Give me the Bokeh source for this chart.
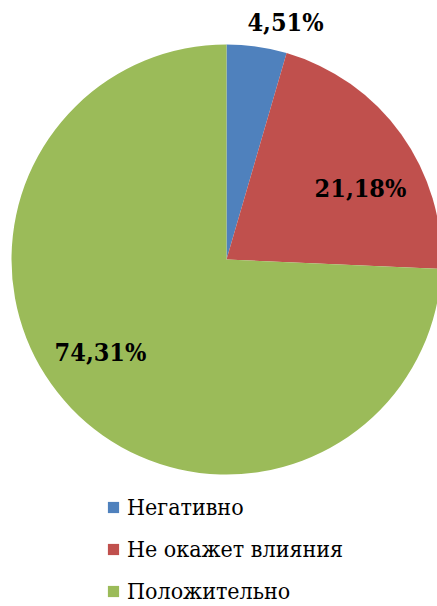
import math
from bokeh.plotting import figure
from bokeh.models import ColumnDataSource, Range1d, Legend, LegendItem
from bokeh.core.properties import value
from bokeh.embed import file_html
from bokeh.resources import INLINE

# ---- data ----
categories = ["Негативно", "Не окажет влияния", "Положительно"]
shares = [4.51, 21.18, 74.31]
colors = ["#4F81BD", "#C0504D", "#9BBB59"]

# ---- layout (pixel coordinates, y measured upwards from page bottom) ----
W, H = 437, 606
cx, cy, r = 226, 347, 215
label_pos = [(285, 584), (360, 418), (100, 254)]
FONT = "DejaVu Serif Condensed"

starts, ends = [], []
a = math.pi / 2
for s in shares:
    starts.append(a - s / 100 * 2 * math.pi)
    ends.append(a)
    a -= s / 100 * 2 * math.pi

src = ColumnDataSource(dict(cat=categories, start=starts, end=ends, color=colors,
                            x=[cx] * 3, y=[cy] * 3))

p = figure(width=W, height=H, output_backend="svg", toolbar_location=None,
           x_range=Range1d(0, W), y_range=Range1d(0, H), min_border=0)
p.axis.visible = False
p.grid.visible = False
p.outline_line_color = None
p.background_fill_color = "white"

w = p.wedge(x="x", y="y", radius=r, start_angle="start", end_angle="end",
            fill_color="color", line_color=None, source=src)

lab = ColumnDataSource(dict(
    x=[q[0] for q in label_pos], y=[q[1] for q in label_pos],
    t=[("%.2f" % s).replace(".", ",") + "%" for s in shares]))
p.text(x="x", y="y", text="t", source=lab, text_align="center", text_baseline="middle",
       text_font=value(FONT), text_font_style="bold",
       text_font_size="25px", text_color="black")

items = [LegendItem(label=c, renderers=[w], index=i) for i, c in enumerate(categories)]
leg = Legend(items=items, location=(106, 0), orientation="vertical",
             label_text_font=FONT, label_text_font_size="23px",
             label_text_color="black", glyph_width=14, glyph_height=14,
             label_height=30, label_standoff=7, spacing=12, padding=0, margin=0,
             border_line_color=None, background_fill_alpha=0)
p.add_layout(leg, "center")

open("out.html", "w").write(file_html(p, INLINE))
